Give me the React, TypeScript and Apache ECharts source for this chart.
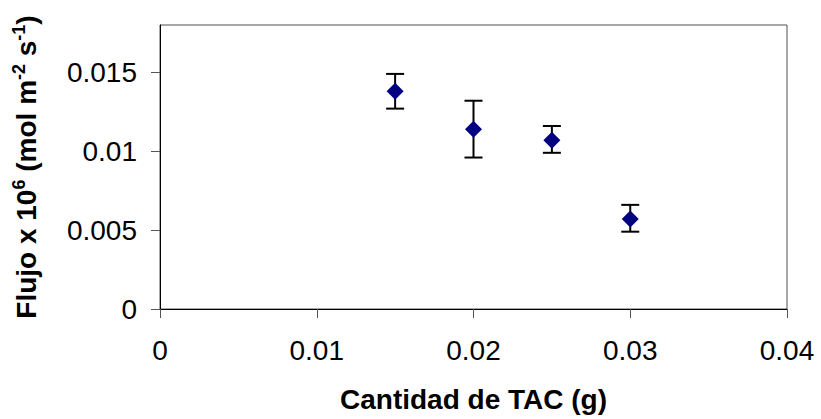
import React, { useEffect, useRef } from "react";
import * as echarts from "echarts";

// TAC amount (g) and measured flux with its spread
const tacAmount = [0.015, 0.02, 0.025, 0.03];
const fluxMean = [0.0138, 0.0114, 0.0107, 0.0057];
const fluxLow = [0.0127, 0.0096, 0.0099, 0.0049];
const fluxHigh = [0.0149, 0.0132, 0.0116, 0.0066];

const xTicks = [0, 0.01, 0.02, 0.03, 0.04];
const yTicks = [0, 0.005, 0.01, 0.015];

const FONT = "'Liberation Sans', Arial, sans-serif";

export default function App() {
  const ref = useRef<HTMLDivElement>(null);

  useEffect(() => {
    if (!ref.current) return;
    const chart = echarts.init(ref.current, undefined, { renderer: "svg" });

    const points = tacAmount.map((x, i) => [x, fluxMean[i]]);
    const bars = tacAmount.map((x, i) => [x, fluxLow[i], fluxHigh[i]]);

    chart.setOption({
      animation: false,
      backgroundColor: "#ffffff",
      grid: {
        left: 160,
        right: 34,
        top: 25,
        bottom: 110,
        show: true,
        borderColor: "#505050",
        borderWidth: 1,
      },
      xAxis: {
        type: "value",
        min: 0,
        max: 0.04,
        interval: 0.01,
        name: "Cantidad de TAC (g)",
        nameLocation: "middle",
        nameGap: 76,
        nameTextStyle: {
          fontFamily: FONT,
          fontSize: 28,
          fontWeight: "bold",
          color: "#000",
        },
        axisLine: { show: true, lineStyle: { color: "#000", width: 1 } },
        axisTick: {
          show: true,
          length: 9,
          inside: false,
          customValues: xTicks,
          lineStyle: { color: "#555" },
        },
        axisLabel: {
          customValues: xTicks,
          margin: 27,
          fontFamily: FONT,
          fontSize: 28,
          color: "#000",
          formatter: (v: number) => String(Number(v.toFixed(4))),
        },
        splitLine: { show: false },
      },
      yAxis: {
        type: "value",
        min: 0,
        max: 0.018,
        name: "Flujo x 10{sup|6} (mol m{sup|-2} s{sup|-1})",
        nameLocation: "middle",
        nameRotate: 90,
        nameGap: 117,
        nameTextStyle: {
          fontFamily: FONT,
          fontSize: 28,
          fontWeight: "bold",
          color: "#000",
          rich: {
            sup: {
              fontFamily: FONT,
              fontSize: 18,
              fontWeight: "bold",
              color: "#000",
              verticalAlign: "top",
              lineHeight: 33,
            },
          },
        },
        axisLine: { show: true, lineStyle: { color: "#000", width: 1 } },
        axisTick: {
          show: true,
          length: 9,
          inside: false,
          customValues: yTicks,
          lineStyle: { color: "#555" },
        },
        axisLabel: {
          customValues: yTicks,
          margin: 23,
          fontFamily: FONT,
          fontSize: 28,
          color: "#000",
          formatter: (v: number) => String(Number(v.toFixed(4))),
        },
        splitLine: { show: false },
      },
      series: [
        {
          type: "custom",
          name: "error",
          data: bars,
          z: 2,
          renderItem: (_params: any, api: any) => {
            const x = api.value(0);
            const lo = api.coord([x, api.value(1)]);
            const hi = api.coord([x, api.value(2)]);
            const half = 9;
            const style = { stroke: "#000", lineWidth: 2 };
            return {
              type: "group",
              children: [
                { type: "line", shape: { x1: lo[0], y1: lo[1], x2: hi[0], y2: hi[1] }, style },
                { type: "line", shape: { x1: lo[0] - half, y1: lo[1], x2: lo[0] + half, y2: lo[1] }, style },
                { type: "line", shape: { x1: hi[0] - half, y1: hi[1], x2: hi[0] + half, y2: hi[1] }, style },
              ],
            };
          },
        },
        {
          type: "scatter",
          name: "Flujo",
          data: points,
          z: 3,
          symbol: "diamond",
          symbolSize: [17, 17],
          itemStyle: { color: "#000080", opacity: 1 },
        },
      ],
    });

    return () => chart.dispose();
  }, []);

  return (
    <div
      ref={ref}
      style={{ position: "fixed", left: 0, top: 0, width: 821, height: 419, background: "#fff" }}
    />
  );
}
